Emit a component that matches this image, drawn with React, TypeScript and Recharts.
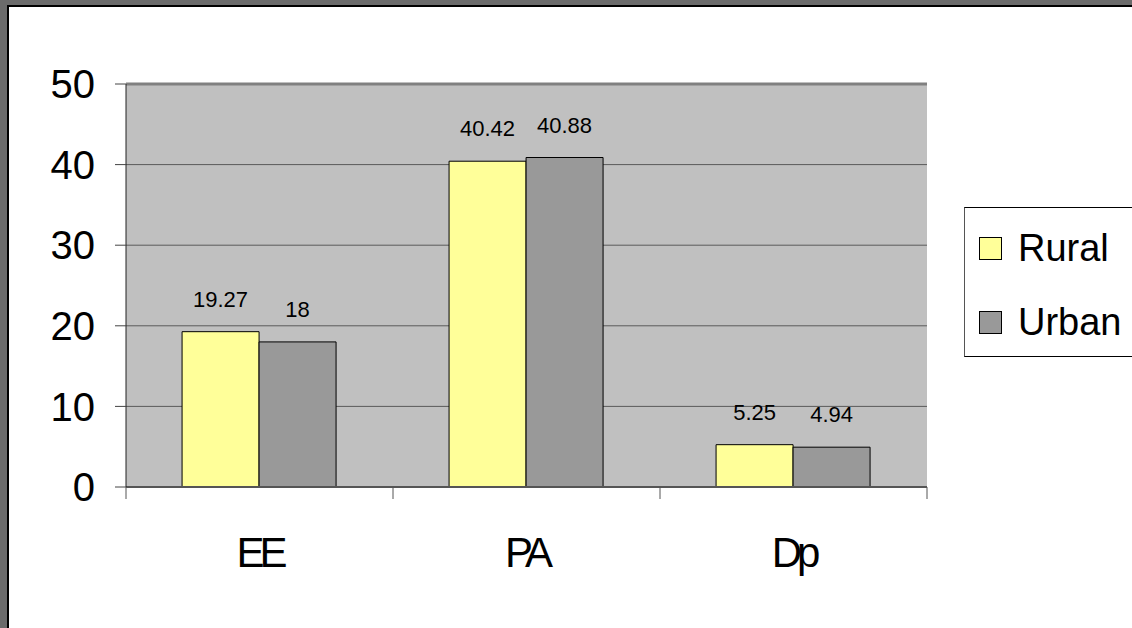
import {
  Bar,
  BarChart,
  CartesianGrid,
  LabelList,
  Legend,
  ReferenceLine,
  XAxis,
  YAxis,
} from "recharts";

const CATEGORIES = ["EE", "PA", "Dp"];
const RURAL = [19.27, 40.42, 5.25];
const URBAN = [18, 40.88, 4.94];
const Y_TICKS = [0, 10, 20, 30, 40, 50];

const data = CATEGORIES.map((name, i) => ({ name, rural: RURAL[i], urban: URBAN[i] }));

const FONT = '"Liberation Sans", Arial, sans-serif';

// label plus the tick marks on the category boundaries (Excel style)
function CategoryTick(props: any) {
  const { x, y, payload, index, width, visibleTicksCount } = props;
  const half = width / visibleTicksCount / 2;
  const last = index === visibleTicksCount - 1;
  return (
    <g>
      <line x1={x - half} x2={x - half} y1={y} y2={y + 12} stroke="#555" />
      {last && <line x1={x + half} x2={x + half} y1={y} y2={y + 12} stroke="#555" />}
      <text
        x={x}
        y={y + 80}
        textAnchor="middle"
        fontSize={42}
        letterSpacing={-5}
        fill="#000"
      >
        {payload.value}
      </text>
    </g>
  );
}

function LegendBox({ payload }: any) {
  return (
    <div
      style={{
        width: 172,
        height: 150,
        boxSizing: "border-box",
        border: "1px solid #000",
        borderLeftColor: "#555",
        background: "#fff",
        paddingTop: 3,
        paddingLeft: 14,
        fontFamily: FONT,
      }}
    >
      {(payload || []).map((p: any) => (
        <div key={p.value} style={{ height: 74, display: "flex", alignItems: "center" }}>
          <span
            style={{
              width: 21,
              height: 21,
              border: "1px solid #000",
              background: p.color,
              marginRight: 16,
              flex: "none",
            }}
          />
          <span style={{ fontSize: 38, lineHeight: "38px", color: "#000" }}>{p.value}</span>
        </div>
      ))}
    </div>
  );
}

export default function App() {
  return (
    <div
      style={{
        position: "absolute",
        left: 0,
        top: 0,
        width: 1132,
        height: 628,
        overflow: "hidden",
        background: "#6b6b6b",
        fontFamily: FONT,
      }}
    >
      <div
        style={{
          position: "absolute",
          left: 7,
          top: 5,
          right: 0,
          bottom: 0,
          background: "#fff",
          borderLeft: "2px solid #000",
          borderTop: "2px solid #000",
        }}
      />
      <div style={{ position: "absolute", left: 0, top: 0 }}>
        <BarChart
          width={1132}
          height={628}
          data={data}
          margin={{ top: 84, right: 205, bottom: 29, left: 0 }}
          barCategoryGap="21%"
          barGap={0}
        >
          <CartesianGrid vertical={false} fill="#C0C0C0" fillOpacity={1} stroke="#5a5a5a" />
          <XAxis
            dataKey="name"
            interval={0}
            axisLine={{ stroke: "#555", strokeWidth: 2 }}
            tickLine={false}
            tickSize={0}
            tickMargin={0}
            height={112}
            tick={<CategoryTick />}
          />
          <YAxis
            domain={[0, 50]}
            ticks={Y_TICKS}
            interval={0}
            width={126}
            tickSize={11}
            tickMargin={20}
            axisLine={{ stroke: "#222" }}
            tickLine={{ stroke: "#444" }}
            tick={{ fill: "#000", fontSize: 40 }}
          />
          <YAxis
            yAxisId="r"
            orientation="right"
            domain={[0, 50]}
            width={0}
            tick={false}
            tickLine={false}
            axisLine={{ stroke: "#808080", strokeWidth: 3 }}
          />
          <ReferenceLine y={50} stroke="#808080" strokeWidth={3} />
          <Legend
            layout="vertical"
            align="center"
            verticalAlign="middle"
            content={<LegendBox />}
            wrapperStyle={{ left: 964, top: 207, width: 172 }}
          />
          <Bar
            dataKey="rural"
            name="Rural"
            fill="#FFFF99"
            stroke="#000"
            strokeWidth={1}
            isAnimationActive={false}
          >
            <LabelList dataKey="rural" position="top" offset={25} fill="#000" fontSize={22} />
          </Bar>
          <Bar
            dataKey="urban"
            name="Urban"
            fill="#999999"
            stroke="#000"
            strokeWidth={1}
            isAnimationActive={false}
          >
            <LabelList dataKey="urban" position="top" offset={25} fill="#000" fontSize={22} />
          </Bar>
        </BarChart>
      </div>
    </div>
  );
}
